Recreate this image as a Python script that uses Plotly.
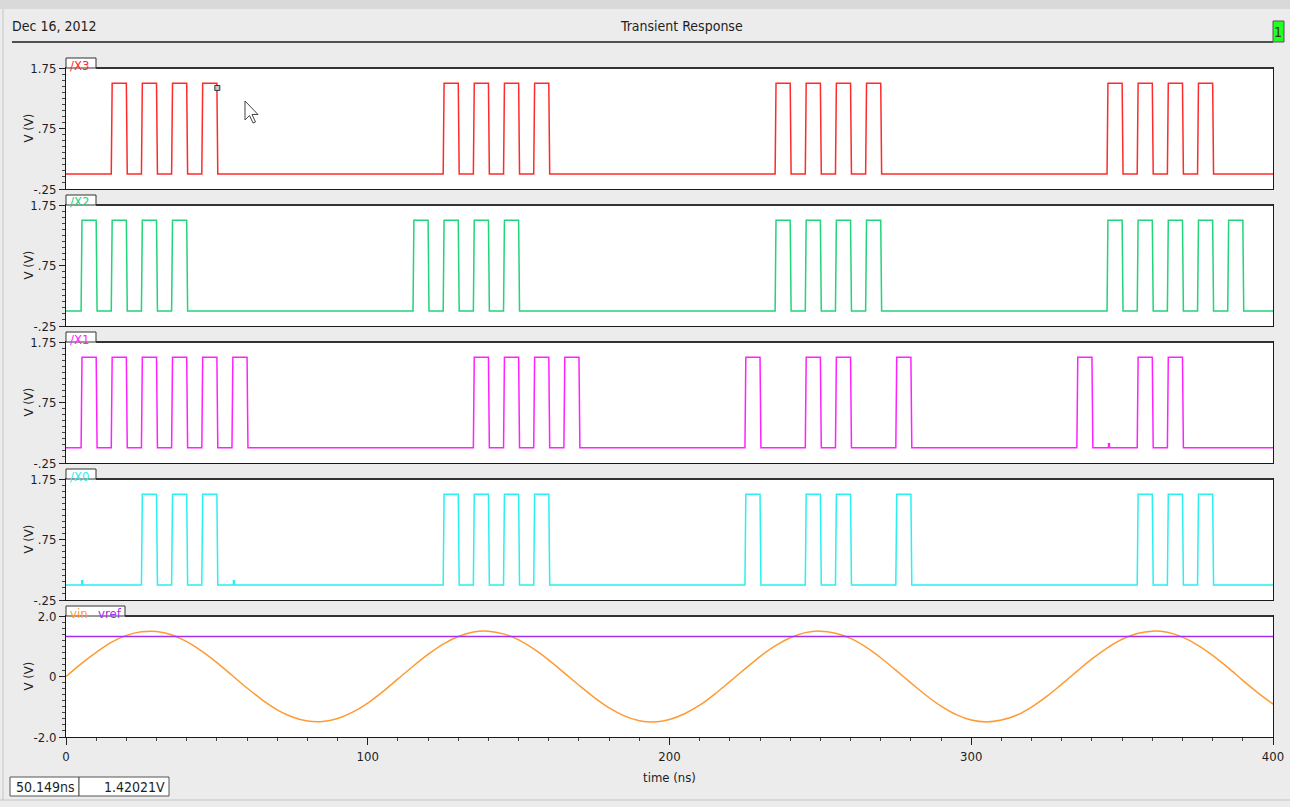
import plotly.graph_objects as go
from plotly.subplots import make_subplots

# ---------------- data ----------------
signals = ["/X3", "/X2", "/X1", "/X0"]
colors = ["#ff2a2a", "#22d47a", "#ff22ff", "#2af0f0"]

X3_starts = [15, 25, 35, 45, 125, 135, 145, 155, 235, 245, 255, 265, 345, 355, 365, 375]
X2_starts = [5, 15, 25, 35, 115, 125, 135, 145, 235, 245, 255, 265, 345, 355, 365, 375, 385]
X1_starts = [5, 15, 25, 35, 45, 55, 135, 145, 155, 165, 225, 245, 255, 275, 335, 355, 365]
X0_starts = [25, 35, 45, 125, 135, 145, 155, 225, 245, 255, 275, 355, 365, 375]
X3_glitches = []
X2_glitches = []
X1_glitches = [345.5]
X0_glitches = [5.2, 55.5]
pulse_width_ns = 5.0
high_v = 1.5
low_v = 0.0

vin_t = list(range(0, 401, 5))
vin_v = [0.00, 0.42, 0.80, 1.13, 1.36, 1.48, 1.49, 1.38, 1.15, 0.84,
         0.46, 0.04, -0.38, -0.77, -1.10, -1.34, -1.47, -1.49, -1.39, -1.18,
         -0.88, -0.50, -0.08, 0.34, 0.73, 1.07, 1.32, 1.47, 1.50, 1.41,
         1.21, 0.91, 0.54, 0.13, -0.29, -0.69, -1.04, -1.30, -1.46, -1.50,
         -1.42, -1.23, -0.95, -0.58, -0.17, 0.25, 0.66, 1.01, 1.28, 1.45,
         1.50, 1.43, 1.26, 0.98, 0.62, 0.21, -0.21, -0.62, -0.98, -1.26,
         -1.44, -1.50, -1.44, -1.28, -1.01, -0.66, -0.25, 0.17, 0.58, 0.94,
         1.23, 1.42, 1.50, 1.46, 1.30, 1.04, 0.70, 0.30, -0.13, -0.54, -0.91]
vref_t = [0, 400]
vref_v = [1.32, 1.32]

cursor_t = 50.149
cursor_v = 1.42021

x_ticks = [0, 100, 200, 300, 400]
dig_ticks = [-0.25, 0.75, 1.75]
dig_tick_text = ["-.25", ".75", "1.75"]
ana_ticks = [-2.0, 0.0, 2.0]
ana_tick_text = ["-2.0", "0", "2.0"]


def build_wave(starts, glitches, t_end=400.0, edge=0.3):
    segs = []
    for s in starts:
        segs.append((s, [(s, low_v), (s + edge, high_v), (s + pulse_width_ns, high_v),
                         (s + pulse_width_ns + edge, low_v)]))
    for g in glitches:
        segs.append((g, [(g, low_v), (g, low_v + 0.07), (g + 0.3, low_v + 0.07), (g + 0.3, low_v)]))
    segs.sort(key=lambda s: s[0])
    xs, ys = [0.0], [low_v]
    for _, pts in segs:
        for a, b in pts:
            xs.append(a)
            ys.append(b)
    xs.append(t_end)
    ys.append(low_v)
    return xs, ys


waves = [build_wave(X3_starts, X3_glitches), build_wave(X2_starts, X2_glitches),
         build_wave(X1_starts, X1_glitches), build_wave(X0_starts, X0_glitches)]

# ---------------- geometry helpers ----------------
W, H = 1290, 807
ML, MR, MT, MB = 66, 17, 68, 69
PW, PH = W - ML - MR, H - MT - MB


def px_x(p):
    return (p - ML) / PW


def px_y(p):
    return (H - MB - p) / PH


panel_tops = [68, 205, 342, 479, 616]
panel_h = 121

FONT = "DejaVu Sans Condensed, DejaVu Sans, sans-serif"
TXT = "#1e1e1e"

fig = make_subplots(rows=5, cols=1, shared_xaxes=True)

for i, (xs, ys) in enumerate(waves):
    fig.add_trace(go.Scatter(x=xs, y=ys, mode="lines", line=dict(color=colors[i], width=1.5),
                             name=signals[i], showlegend=False, hoverinfo="skip"), row=i + 1, col=1)

fig.add_trace(go.Scatter(x=vin_t, y=vin_v, mode="lines", line=dict(color="#ff9a33", width=1.5, shape="spline"),
                         name="vin", showlegend=False), row=5, col=1)
fig.add_trace(go.Scatter(x=vref_t, y=vref_v, mode="lines", line=dict(color="#a030f0", width=1.5),
                         name="vref", showlegend=False), row=5, col=1)
fig.add_trace(go.Scatter(x=[cursor_t], y=[cursor_v], mode="markers",
                         marker=dict(symbol="square", size=5, color="#c8c8c8", line=dict(color="#333", width=1)),
                         showlegend=False), row=1, col=1)

for i in range(5):
    top = panel_tops[i]
    dom = [px_y(top + panel_h), px_y(top)]
    yname = "yaxis" if i == 0 else f"yaxis{i + 1}"
    xname = "xaxis" if i == 0 else f"xaxis{i + 1}"
    if i < 4:
        yrng, tv, tt, mdt, mt0 = [-0.25, 1.75], dig_ticks, dig_tick_text, 0.1, -0.25
    else:
        yrng, tv, tt, mdt, mt0 = [-2.0, 2.0], ana_ticks, ana_tick_text, 0.2, -2.0
    fig.layout[yname].update(domain=dom, range=yrng, tickvals=tv, ticktext=tt, ticks="outside",
                             ticklen=6, tickcolor="#222", tickwidth=1, automargin=False,
                             minor=dict(tick0=mt0, dtick=mdt, ticks="outside", ticklen=3, tickcolor="#444"),
                             showgrid=False, zeroline=False, showline=True, linecolor="#1a1a1a",
                             linewidth=1, mirror=True, tickfont=dict(family=FONT, size=13, color=TXT))
    xa = dict(range=[0, 400], showgrid=False, zeroline=False, showline=True, linecolor="#1a1a1a",
              linewidth=1, mirror=True, automargin=False)
    if i == 4:
        xa.update(tickvals=x_ticks, ticks="outside", ticklen=7, tickcolor="#222",
                  minor=dict(dtick=10, ticks="outside", ticklen=3, tickcolor="#444"),
                  tickfont=dict(family=FONT, size=13, color=TXT), showticklabels=True,
                  title=dict(text="time (ns)", font=dict(family=FONT, size=13, color=TXT), standoff=10))
    else:
        xa.update(showticklabels=False, ticks="")
    fig.layout[xname].update(**xa)

shapes = []
annotations = []
# header / frame decorations
shapes.append(dict(type="rect", xref="paper", yref="paper", x0=px_x(0), x1=px_x(W), y0=px_y(9), y1=px_y(0),
                   fillcolor="#d9d9d9", line=dict(width=0), layer="below"))
shapes.append(dict(type="line", xref="paper", yref="paper", x0=px_x(3), x1=px_x(3), y0=px_y(800), y1=px_y(9),
                   line=dict(color="#c4c4c4", width=1)))
shapes.append(dict(type="line", xref="paper", yref="paper", x0=px_x(12), x1=px_x(1273), y0=px_y(42), y1=px_y(42),
                   line=dict(color="#505050", width=2)))
shapes.append(dict(type="line", xref="paper", yref="paper", x0=px_x(0), x1=px_x(W), y0=px_y(800), y1=px_y(800),
                   line=dict(color="#c4c4c4", width=1)))
shapes.append(dict(type="rect", xref="paper", yref="paper", x0=px_x(1273), x1=px_x(1284), y0=px_y(42), y1=px_y(21),
                   fillcolor="#22ff22", line=dict(color="#555", width=1)))
annotations.append(dict(xref="paper", yref="paper", x=px_x(1278.5), y=px_y(32), text="1", showarrow=False,
                        font=dict(family=FONT, size=14, color="#333"), xanchor="center", yanchor="middle"))
annotations.append(dict(xref="paper", yref="paper", x=px_x(10), y=px_y(26), text="Dec 16, 2012", showarrow=False,
                        font=dict(family=FONT, size=14, color=TXT), xanchor="left", yanchor="middle"))
annotations.append(dict(xref="paper", yref="paper", x=px_x(681), y=px_y(26), text="Transient Response",
                        showarrow=False, font=dict(family=FONT, size=14, color=TXT), xanchor="center",
                        yanchor="middle"))

# panel tabs, labels, y titles
for i in range(5):
    top = panel_tops[i]
    right = 96 if i < 4 else 125
    shapes.append(dict(type="rect", xref="paper", yref="paper", x0=px_x(66), x1=px_x(right),
                       y0=px_y(top), y1=px_y(top - 10), fillcolor="white", line=dict(color="#333", width=1)))
    shapes.append(dict(type="line", xref="paper", yref="paper", x0=px_x(right), x1=px_x(1273),
                       y0=px_y(top), y1=px_y(top), line=dict(color="#333", width=2)))
    annotations.append(dict(xref="paper", yref="paper", x=px_x(28), y=px_y(top + panel_h / 2), text="V (V)",
                            textangle=-90, showarrow=False, font=dict(family=FONT, size=13, color=TXT),
                            xanchor="center", yanchor="middle"))
    if i < 4:
        annotations.append(dict(xref="paper", yref="paper", x=px_x(68), y=px_y(top - 3), text=signals[i],
                                showarrow=False, font=dict(family=FONT, size=13, color=colors[i]),
                                xanchor="left", yanchor="middle"))
annotations.append(dict(xref="paper", yref="paper", x=px_x(68), y=px_y(616 - 3), text="vin", showarrow=False,
                        font=dict(family=FONT, size=13, color="#ff9a33"), xanchor="left", yanchor="middle"))
annotations.append(dict(xref="paper", yref="paper", x=px_x(96), y=px_y(616 - 3), text="vref", showarrow=False,
                        font=dict(family=FONT, size=13, color="#a030f0"), xanchor="left", yanchor="middle"))

# status boxes
for x0, x1 in [(10, 79), (79, 169)]:
    shapes.append(dict(type="rect", xref="paper", yref="paper", x0=px_x(x0), x1=px_x(x1), y0=px_y(796),
                       y1=px_y(777), fillcolor="white", line=dict(color="#555", width=1)))
annotations.append(dict(xref="paper", yref="paper", x=px_x(77), y=px_y(786.5), text=f"{cursor_t:.3f}ns",
                        showarrow=False, font=dict(family=FONT, size=14, color=TXT), xanchor="right",
                        yanchor="middle"))
annotations.append(dict(xref="paper", yref="paper", x=px_x(167), y=px_y(786.5), text=f"{cursor_v:.5f}V",
                        showarrow=False, font=dict(family=FONT, size=14, color=TXT), xanchor="right",
                        yanchor="middle"))

# mouse pointer decoration
ptr = [(0, 0), (0, 19), (4.5, 14.5), (8, 22), (10.5, 21), (7, 13.5), (13, 13.5)]
ox, oy = 245, 101
path = "M " + " L ".join(f"{px_x(ox + a):.5f},{px_y(oy + b):.5f}" for a, b in ptr) + " Z"
shapes.append(dict(type="path", xref="paper", yref="paper", path=path, fillcolor="white",
                   line=dict(color="#444", width=1)))

fig.update_layout(width=W, height=H, autosize=False, margin=dict(l=ML, r=MR, t=MT, b=MB, autoexpand=False),
                  paper_bgcolor="#ececec", plot_bgcolor="white", shapes=shapes, annotations=annotations,
                  showlegend=False, font=dict(family=FONT, size=13, color=TXT))

fig.write_html("out.html", config={"displayModeBar": False, "responsive": False},
               post_script="document.body.style.margin='0px';document.body.style.overflow='hidden';"
                           "document.body.style.background='#ececec';")
